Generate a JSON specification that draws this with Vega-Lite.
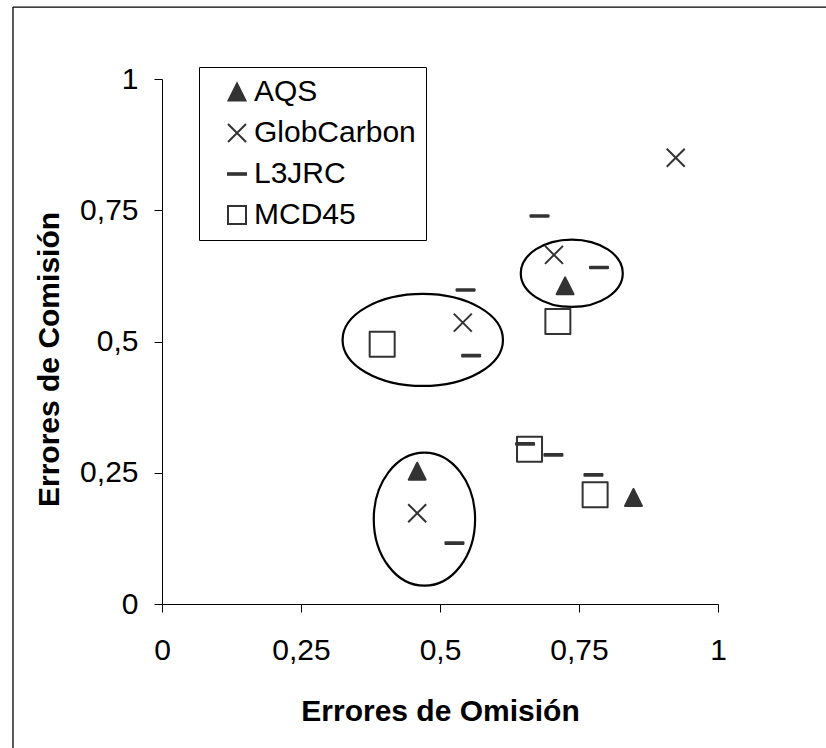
{
  "$schema": "https://vega.github.io/schema/vega-lite/v6.json",
  "width": 556,
  "height": 525,
  "autosize": "none",
  "padding": {"left": 162, "top": 79, "right": 108, "bottom": 144},
  "background": "white",
  "config": {
    "view": {"stroke": null},
    "font": "Liberation Sans",
    "axis": {
      "domainColor": "black",
      "domainWidth": 1,
      "tickColor": "black",
      "tickWidth": 1,
      "tickSize": 8,
      "grid": false,
      "labelFont": "Liberation Sans",
      "labelFontSize": 30,
      "labelColor": "black",
      "labelFlush": false,
      "titleFont": "Liberation Sans",
      "titleFontSize": 30,
      "titleFontWeight": "bold",
      "titleColor": "black"
    },
    "legend": {
      "orient": "none",
      "legendX": 37,
      "legendY": -12,
      "strokeColor": "black",
      "fillColor": "white",
      "padding": 10,
      "rowPadding": 11,
      "labelFont": "Liberation Sans",
      "labelFontSize": 30,
      "labelLimit": 400,
      "labelColor": "black",
      "labelOffset": 2,
      "symbolOffset": 13,
      "symbolSize": 324,
      "symbolStrokeWidth": 2
    }
  },
  "datasets": {
    "errores": [
      {"producto": "AQS", "omision": 0.459, "comision": 0.253},
      {"producto": "AQS", "omision": 0.848, "comision": 0.203},
      {"producto": "AQS", "omision": 0.725, "comision": 0.606},
      {"producto": "GlobCarbon", "omision": 0.459, "comision": 0.173},
      {"producto": "GlobCarbon", "omision": 0.541, "comision": 0.536},
      {"producto": "GlobCarbon", "omision": 0.705, "comision": 0.665},
      {"producto": "GlobCarbon", "omision": 0.924, "comision": 0.85},
      {"producto": "L3JRC", "omision": 0.526, "comision": 0.116},
      {"producto": "L3JRC", "omision": 0.653, "comision": 0.305},
      {"producto": "L3JRC", "omision": 0.704, "comision": 0.284},
      {"producto": "L3JRC", "omision": 0.776, "comision": 0.246},
      {"producto": "L3JRC", "omision": 0.546, "comision": 0.598},
      {"producto": "L3JRC", "omision": 0.556, "comision": 0.473},
      {"producto": "L3JRC", "omision": 0.679, "comision": 0.739},
      {"producto": "L3JRC", "omision": 0.786, "comision": 0.641},
      {"producto": "MCD45", "omision": 0.396, "comision": 0.495},
      {"producto": "MCD45", "omision": 0.712, "comision": 0.538},
      {"producto": "MCD45", "omision": 0.661, "comision": 0.295},
      {"producto": "MCD45", "omision": 0.779, "comision": 0.208}
    ],
    "grupos": [
      {"grupo": "E1", "omision": 0.472, "comision": 0.1615},
      {"grupo": "E2", "omision": 0.469, "comision": 0.503},
      {"grupo": "E3", "omision": 0.737, "comision": 0.63}
    ],
    "marco": [{"borde": "marco"}]
  },
  "layer": [
    {
      "data": {"name": "marco"},
      "mark": {"type": "rule", "color": "black", "strokeWidth": 1.3, "clip": false},
      "encoding": {
        "x": {"datum": -0.268, "type": "quantitative"},
        "x2": {"datum": 1.3},
        "y": {"datum": 1.137, "type": "quantitative"}
      }
    },
    {
      "data": {"name": "marco"},
      "mark": {"type": "rule", "color": "black", "strokeWidth": 1.3, "clip": false},
      "encoding": {
        "x": {"datum": -0.268, "type": "quantitative"},
        "y": {"datum": 1.137, "type": "quantitative"},
        "y2": {"datum": -0.35}
      }
    },
    {
      "data": {"name": "grupos"},
      "transform": [{"filter": "datum.grupo === 'E1'"}],
      "mark": {"type": "point", "filled": false, "opacity": 1, "stroke": "black", "strokeWidth": 2.2,
               "shape": "M 0 -1 A 0.762 1 0 1 1 0 1 A 0.762 1 0 1 1 0 -1 Z", "size": 17689},
      "encoding": {
        "x": {"field": "omision", "type": "quantitative"},
        "y": {"field": "comision", "type": "quantitative"}
      }
    },
    {
      "data": {"name": "grupos"},
      "transform": [{"filter": "datum.grupo === 'E2'"}],
      "mark": {"type": "point", "filled": false, "opacity": 1, "stroke": "black", "strokeWidth": 2.2,
               "shape": "M -1 0 A 1 0.574 0 1 1 1 0 A 1 0.574 0 1 1 -1 0 Z", "size": 25728},
      "encoding": {
        "x": {"field": "omision", "type": "quantitative"},
        "y": {"field": "comision", "type": "quantitative"}
      }
    },
    {
      "data": {"name": "grupos"},
      "transform": [{"filter": "datum.grupo === 'E3'"}],
      "mark": {"type": "point", "filled": false, "opacity": 1, "stroke": "black", "strokeWidth": 2.2,
               "shape": "M -1 0 A 1 0.661 0 1 1 1 0 A 1 0.661 0 1 1 -1 0 Z", "size": 10404},
      "encoding": {
        "x": {"field": "omision", "type": "quantitative"},
        "y": {"field": "comision", "type": "quantitative"}
      }
    },
    {
      "data": {"name": "errores"},
      "transform": [{"filter": "datum.producto !== 'MCD45'"}],
      "mark": {"type": "point", "filled": true, "opacity": 1, "strokeWidth": 2, "strokeJoin": "round", "size": 324},
      "encoding": {
        "x": {
          "field": "omision", "type": "quantitative",
          "scale": {"domain": [0, 1], "nice": false, "zero": false},
          "axis": {"values": [0, 0.25, 0.5, 0.75, 1], "labelExpr": "replace(datum.value + '', '.', ',')",
                   "labelPadding": 23, "titlePadding": 31},
          "title": "Errores de Omisión"
        },
        "y": {
          "field": "comision", "type": "quantitative",
          "scale": {"domain": [0, 1], "nice": false, "zero": false},
          "axis": {"values": [0, 0.25, 0.5, 0.75, 1], "labelExpr": "replace(datum.value + '', '.', ',')",
                   "labelPadding": 16, "titlePadding": 15, "titleY": 280},
          "title": "Errores de Comisión"
        },
        "shape": {
          "field": "producto", "type": "nominal",
          "scale": {
            "domain": ["AQS", "GlobCarbon", "L3JRC", "MCD45"],
            "range": [
              "M 0 -0.94 L 0.94 0.94 L -0.94 0.94 Z",
              "M -1 -1 L 1 1 M -1 1 L 1 -1",
              "M -1 -0.09 L 1 -0.09 L 1 0.09 L -1 0.09 Z",
              "M -1 -1 L 1 -1 L 1 1 L -1 1 Z"
            ]
          },
          "legend": {"title": null}
        },
        "fill": {
          "field": "producto", "type": "nominal",
          "scale": {
            "domain": ["AQS", "GlobCarbon", "L3JRC", "MCD45"],
            "range": ["#333333", "rgba(0,0,0,0)", "#333333", "rgba(255,255,255,0)"]
          },
          "legend": {"title": null}
        },
        "stroke": {
          "field": "producto", "type": "nominal",
          "scale": {
            "domain": ["AQS", "GlobCarbon", "L3JRC", "MCD45"],
            "range": ["#333333", "#333333", "#333333", "#333333"]
          },
          "legend": {"title": null}
        }
      }
    },
    {
      "data": {"name": "errores"},
      "transform": [{"filter": "datum.producto === 'MCD45'"}],
      "mark": {"type": "point", "filled": true, "opacity": 1, "strokeWidth": 2, "strokeJoin": "round", "size": 625},
      "encoding": {
        "x": {"field": "omision", "type": "quantitative"},
        "y": {"field": "comision", "type": "quantitative"},
        "shape": {"field": "producto", "type": "nominal", "legend": {"title": null}},
        "fill": {"field": "producto", "type": "nominal", "legend": {"title": null}},
        "stroke": {"field": "producto", "type": "nominal", "legend": {"title": null}}
      }
    }
  ]
}
